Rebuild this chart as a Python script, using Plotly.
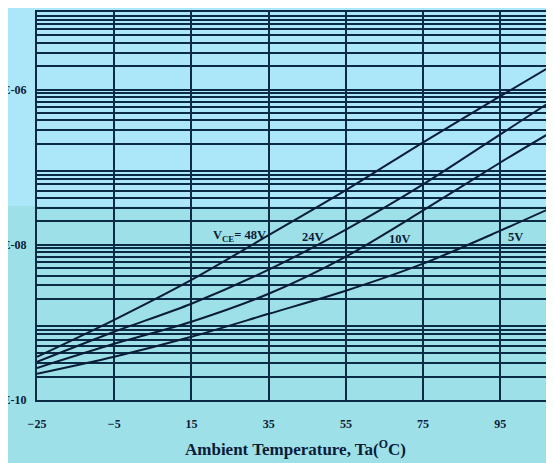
import math
import plotly.graph_objects as go

# ---- data ----
temps = [-25, -5, 15, 35, 55, 75, 95, 109]
ice_48v = [3.60e-10, 1.08e-9, 3.53e-9, 1.33e-8, 5.06e-8, 2.09e-7, 8.22e-7, 2.13e-6]
ice_24v = [3.10e-10, 7.57e-10, 1.74e-9, 4.78e-9, 1.57e-8, 6.00e-8, 2.65e-7, 7.52e-7]
ice_10v = [2.59e-10, 5.30e-10, 1.02e-9, 2.34e-9, 7.05e-9, 2.77e-8, 1.15e-7, 2.99e-7]
ice_5v = [2.17e-10, 3.60e-10, 6.52e-10, 1.29e-9, 2.56e-9, 5.71e-9, 1.52e-8, 3.12e-8]

x_ticks = [-25, -5, 15, 35, 55, 75, 95]
y_tickvals = [1e-10, 1e-8, 1e-6]
y_ticktext = ["1E-10", "1E-08", "1E-06"]

labels = ["V<sub>CE</sub>= 48V", "24V", "10V", "5V"]
label_x = [27.5, 46.6, 69.1, 98.8]
label_y = [1.3e-8, 1.25e-8, 1.2e-8, 1.25e-8]

line_col = "#0a1d38"
grid_col = "#0b2a45"
upper_bg = "#abe6f9"
lower_bg = "#9ee0e8"
font_fam = "Liberation Serif, Times New Roman, serif"

minor_vals = [m * 10.0 ** e for e in range(-10, -5) for m in range(2, 10)]

fig = go.Figure()
for ys in [ice_48v, ice_24v, ice_10v, ice_5v]:
    fig.add_trace(go.Scatter(x=temps, y=ys, mode="lines",
                             line=dict(color=line_col, width=2, shape="spline", smoothing=0.8),
                             showlegend=False, hoverinfo="skip"))

for t, lx, ly in zip(labels, label_x, label_y):
    fig.add_annotation(x=lx, y=math.log10(ly), text=t, showarrow=False,
                       font=dict(family=font_fam, size=12.5, color="#0a1d38", weight="bold"))

fig.add_shape(type="rect", xref="paper", yref="paper", x0=-0.2, x1=1.2, y0=-0.3, y1=0.5,
              fillcolor=lower_bg, line=dict(width=0), layer="below")

fig.update_layout(
    width=554, height=463,
    margin=dict(l=29, r=8, t=4, b=71),
    paper_bgcolor=upper_bg,
    plot_bgcolor="rgba(0,0,0,0)",
    showlegend=False,
    xaxis=dict(
        range=[-25, 108.9], tickvals=x_ticks, automargin=False,
        showgrid=True, gridcolor=grid_col, gridwidth=2,
        showline=True, linecolor=grid_col, linewidth=2, mirror=True,
        zeroline=False, ticks="", ticklabelstandoff=12,
        tickfont=dict(family=font_fam, size=12, color="#0a1d38", weight="bold"),
        title=dict(text="Ambient Temperature, Ta(<sup>O</sup>C)", standoff=13,
                   font=dict(family=font_fam, size=17, color="#0a1d38", weight="bold")),
    ),
    yaxis=dict(
        type="log", range=[-10, -5], automargin=False,
        tickvals=y_tickvals, ticktext=y_ticktext,
        showgrid=True, gridcolor=grid_col, gridwidth=2,
        minor=dict(tickvals=minor_vals, showgrid=True, gridcolor=grid_col, gridwidth=2, ticks=""),
        showline=True, linecolor=grid_col, linewidth=2, mirror=False,
        zeroline=False, ticks="", ticklabelstandoff=6,
        tickfont=dict(family=font_fam, size=12, color="#0a1d38", weight="bold"),
    ),
)

fig.write_html("out.html")
